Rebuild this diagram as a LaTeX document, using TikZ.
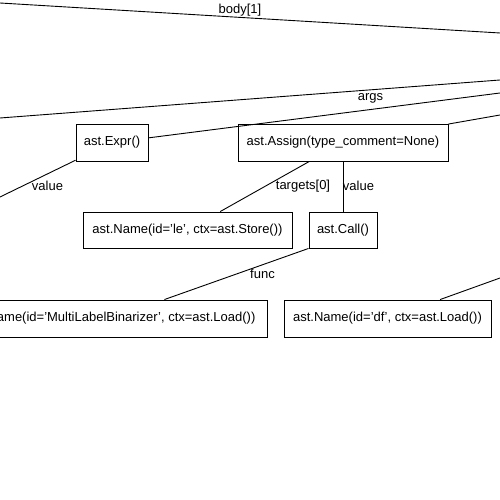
\documentclass[tikz,border=0pt]{standalone}
\usepackage{fontspec}
\setmainfont{Liberation Sans}
\begin{document}
\begin{tikzpicture}[x=1pt,y=1pt,
  astbox/.style={draw=black,line width=0.9pt,minimum height=37pt,inner sep=0pt,font=\fontsize{13}{15}\selectfont},
  edge/.style={draw=black,line width=0.9pt},
  elabel/.style={inner sep=0pt,font=\fontsize{13}{15}\selectfont}]
\useasboundingbox (0,0) rectangle (500,500);
% nodes
\node[astbox,minimum width=72pt] (expr) at (112,357.5) {ast.Expr()};
\node[astbox,minimum width=210pt] (assign) at (343,357.5) {ast.Assign(type\_comment=None)};
\node[astbox,minimum width=209pt,minimum height=36pt] (le) at (187.5,270) {ast.Name(id='le', ctx=ast.Store())};
\node[astbox,minimum width=68pt,minimum height=36pt] (call) at (343,270) {ast.Call()};
\node[astbox,minimum width=312pt] (mlb) at (111,181.5) {ast.Name(id='MultiLabelBinarizer', ctx=ast.Load())};
\node[astbox,minimum width=207pt] (df) at (387.5,181.5) {ast.Name(id='df', ctx=ast.Load())};
% free ends
\coordinate (bodyL) at (0,497);
\coordinate (bodyR) at (500,467);
\coordinate (lineL) at (0,382);
\coordinate (lineR) at (500,420);
\coordinate (argsR) at (500,407);
\coordinate (assignR) at (500,385);
\coordinate (exprL) at (0,303);
\coordinate (dfR) at (500,222);
% edges
\draw[edge] (bodyL) -- (bodyR);
\draw[edge] (lineL) -- (lineR);
\draw[edge] (argsR) -- (expr);
\draw[edge] (assignR) -- (assign);
\draw[edge] (exprL) -- (expr);
\draw[edge] (assign) -- (le);
\draw[edge] (assign) -- (call);
\draw[edge] (call.south west) -- (mlb);
\draw[edge] (dfR) -- (df);
% labels
\node[elabel] (lbody) at (240,489.5) {body[1]};
\node[elabel] (largs) at (370.5,402) {args};
\node[elabel] (lval1) at (47.5,314) {value};
\node[elabel] (ltarg) at (303,314) {targets[0]};
\node[elabel] (lval2) at (358.5,314) {value};
\node[elabel] (lfunc) at (262.5,226) {func};
\end{tikzpicture}
\end{document}
